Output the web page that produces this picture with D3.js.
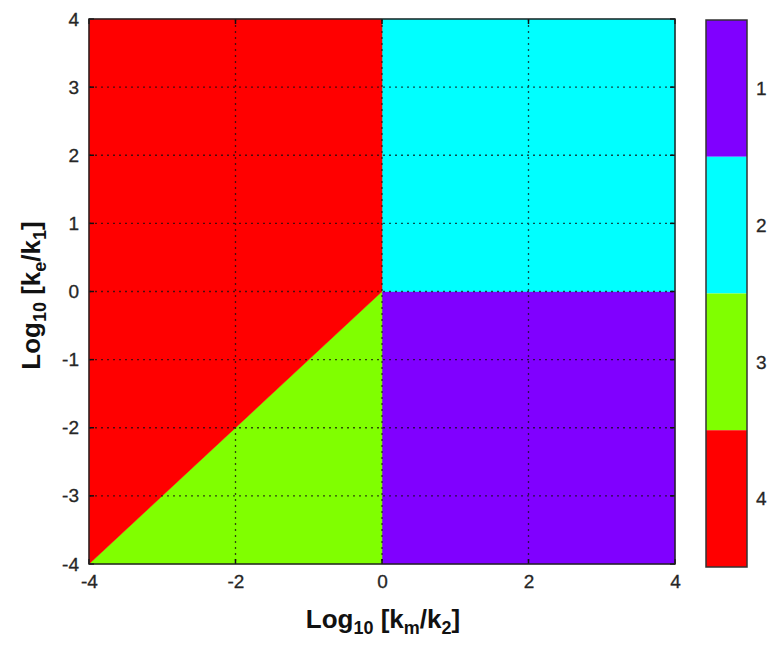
<!DOCTYPE html>
<html>
<head>
<meta charset="utf-8">
<script src="https://cdn.jsdelivr.net/npm/d3@7"></script>
<style>
  body { margin: 0; background: #fff; }
  text { font-family: "Liberation Sans", Arial, sans-serif; }
</style>
</head>
<body>
<svg id="chart" width="767" height="646"></svg>
<script>
// phase regions, in data coordinates (log10 ratios)
const regionIds = [1, 2, 3, 4]
const regionColors = ['#8000ff', '#00ffff', '#80ff00', '#ff0000']
const regionPolys = [
    [[0, -4], [4, -4], [4, 0], [0, 0]],
    [[0, 0], [4, 0], [4, 4], [0, 4]],
    [[-4, -4], [0, -4], [0, 0]],
    [[-4, -4], [0, 0], [0, 4], [-4, 4]]
]
const xTicks = [-4, -2, 0, 2, 4]
const yTicks = [-4, -3, -2, -1, 0, 1, 2, 3, 4]

const svg = d3.select('#chart')
const plot = { left: 89, right: 675, top: 19, bottom: 564 }

const x = d3.scaleLinear().domain([-4, 4]).range([plot.left, plot.right])
const y = d3.scaleLinear().domain([-4, 4]).range([plot.bottom, plot.top])

const line = d3.line().x(d => x(d[0])).y(d => y(d[1]))

svg.append('g').selectAll('path')
    .data(regionPolys)
    .join('path')
    .attr('d', d => line(d) + 'Z')
    .attr('fill', (d, i) => regionColors[i])
    .attr('stroke', (d, i) => regionColors[i])
    .attr('stroke-width', 0.5)

// dotted grid
const grid = svg.append('g')
    .attr('stroke', '#111')
    .attr('stroke-width', 1.3)
    .attr('stroke-dasharray', '2,4')
    .attr('opacity', 0.75)
grid.selectAll('.gx')
    .data(xTicks.slice(1, -1))
    .join('line')
    .attr('x1', d => x(d)).attr('x2', d => x(d))
    .attr('y1', plot.top).attr('y2', plot.bottom)
grid.selectAll('.gy')
    .data(yTicks.slice(1, -1))
    .join('line')
    .attr('y1', d => y(d)).attr('y2', d => y(d))
    .attr('x1', plot.left).attr('x2', plot.right)

// axes
const fmt = d => String(d)
const xAxis = d3.axisBottom(x).tickValues(xTicks).tickFormat(fmt).tickSize(0).tickPadding(11)
const yAxis = d3.axisLeft(y).tickValues(yTicks).tickFormat(fmt).tickSize(0).tickPadding(10)

const gx = svg.append('g')
    .attr('transform', `translate(0,${plot.bottom})`)
    .call(xAxis)
const gy = svg.append('g')
    .attr('transform', `translate(${plot.left},0)`)
    .call(yAxis)
for (const g of [gx, gy]) {
    g.select('.domain').remove()
    g.selectAll('text')
        .attr('font-size', 19)
        .attr('fill', '#262626')
        .attr('stroke', '#262626').attr('stroke-width', 0.3)
        .style('font-family', '"Liberation Sans", Arial, sans-serif')
}

// small inner ticks on all four sides
const tk = svg.append('g').attr('stroke', '#111').attr('stroke-width', 1.5)
xTicks.forEach(v => {
    tk.append('line').attr('x1', x(v)).attr('x2', x(v)).attr('y1', plot.bottom).attr('y2', plot.bottom - 5)
    tk.append('line').attr('x1', x(v)).attr('x2', x(v)).attr('y1', plot.top).attr('y2', plot.top + 5)
})
yTicks.forEach(v => {
    tk.append('line').attr('y1', y(v)).attr('y2', y(v)).attr('x1', plot.left).attr('x2', plot.left + 5)
    tk.append('line').attr('y1', y(v)).attr('y2', y(v)).attr('x1', plot.right).attr('x2', plot.right - 5)
})

svg.append('rect')
    .attr('x', plot.left).attr('y', plot.top)
    .attr('width', plot.right - plot.left).attr('height', plot.bottom - plot.top)
    .attr('fill', 'none').attr('stroke', '#222').attr('stroke-width', 1.5)

// axis titles with subscripts
const addTitle = (sel, sub1, sub2) => {
    sel.append('tspan').text('Log')
    sel.append('tspan').text('10').attr('font-size', 18).attr('dy', 6)
    sel.append('tspan').text(' [k').attr('dy', -6)
    sel.append('tspan').text(sub1).attr('font-size', 18).attr('dy', 6)
    sel.append('tspan').text('/k').attr('dy', -6)
    sel.append('tspan').text(sub2).attr('font-size', 18).attr('dy', 6)
    sel.append('tspan').text(']').attr('dy', -6)
}
const xt = svg.append('text')
    .attr('x', (plot.left + plot.right) / 2 + 1)
    .attr('y', 628)
    .attr('text-anchor', 'middle')
    .attr('font-size', 26).attr('font-weight', 'bold').attr('fill', '#111')
addTitle(xt, 'm', '2')

const yt = svg.append('text')
    .attr('transform', `translate(40,${(plot.top + plot.bottom) / 2 + 4}) rotate(-90)`)
    .attr('text-anchor', 'middle')
    .attr('font-size', 26).attr('font-weight', 'bold').attr('fill', '#111')
addTitle(yt, 'e', '1')

// colour bar
const cb = { left: 706, right: 747, top: 20, bottom: 567 }
const cy = d3.scaleBand().domain(regionIds).range([cb.top, cb.bottom]).padding(0)
svg.append('g').selectAll('rect')
    .data(regionIds)
    .join('rect')
    .attr('x', cb.left).attr('y', d => cy(d))
    .attr('width', cb.right - cb.left).attr('height', cy.bandwidth())
    .attr('fill', (d, i) => regionColors[i])
svg.append('rect')
    .attr('x', cb.left).attr('y', cb.top)
    .attr('width', cb.right - cb.left).attr('height', cb.bottom - cb.top)
    .attr('fill', 'none').attr('stroke', '#333').attr('stroke-width', 1.5)
svg.append('g').selectAll('text')
    .data(regionIds)
    .join('text')
    .attr('x', 756)
    .attr('y', d => cy(d) + cy.bandwidth() / 2)
    .attr('dy', '0.35em')
    .attr('font-size', 19).attr('fill', '#262626')
    .attr('stroke', '#262626').attr('stroke-width', 0.3)
    .text(d => d)
</script>
</body>
</html>
